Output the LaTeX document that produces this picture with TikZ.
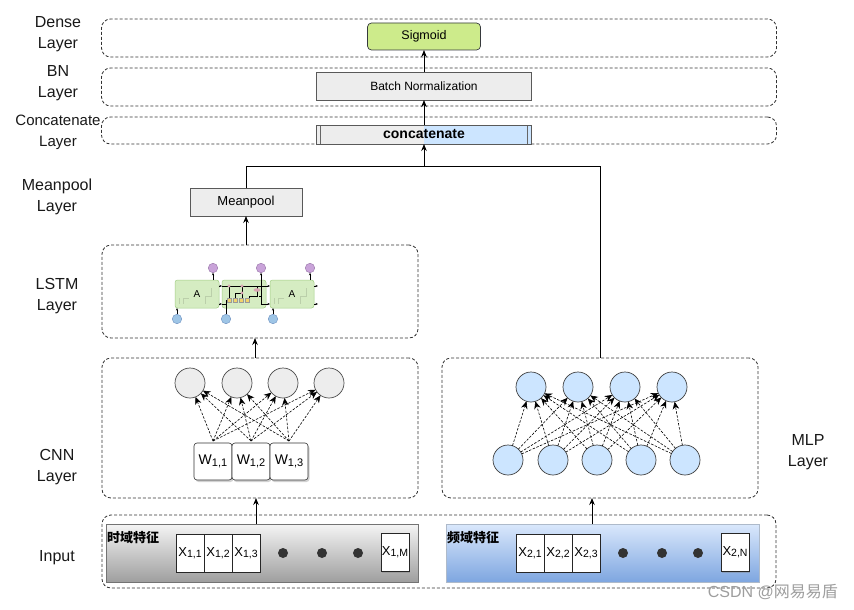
\documentclass[tikz,border=0pt]{standalone}
\usepackage{fontspec}
\setmainfont{Liberation Sans}
\newfontfamily\cjk{Noto Sans CJK SC}
\usetikzlibrary{arrows.meta,shadows,calc}
\definecolor{siggreen}{HTML}{CDEB8B}
\definecolor{sigdraw}{HTML}{36393D}
\definecolor{cblue}{HTML}{CCE5FF}
\definecolor{ftop}{HTML}{DAE8FC}
\definecolor{fbot}{HTML}{7EA6E0}
\definecolor{cellfill}{HTML}{D5ECC2}
\definecolor{celldraw}{HTML}{A3CF86}
\definecolor{purfill}{HTML}{C9A3D9}
\definecolor{purdraw}{HTML}{9673A6}
\definecolor{lbfill}{HTML}{9EC5E6}
\definecolor{lbdraw}{HTML}{6C8EBF}
\definecolor{pinkdot}{HTML}{D9A6B3}
\definecolor{yelrect}{HTML}{F2D46B}
\begin{document}
\begin{tikzpicture}[x=1pt,y=-1pt,
  container/.style={draw=black!80, line width=0.8pt, dash pattern=on 3pt off 2pt, rounded corners=9pt, inner sep=0pt, outer sep=0pt},
  lbl/.style={align=center, font=\fontsize{16}{21}\selectfont, text=black!90},
  grbox/.style={draw=black!65, fill=black!7, inner sep=0pt, outer sep=0pt, line width=0.7pt},
  arr/.style={-{Stealth[length=7pt,width=5.5pt]}, line width=0.8pt, black},
  darr/.style={dash pattern=on 2.5pt off 1.5pt, -{Stealth[length=7.5pt,width=6.5pt]}, line width=0.6pt, black},
  sarr/.style={-{Stealth[length=2.5pt,width=2pt]}, line width=0.4pt, black},
  gcirc/.style={circle, draw=black!70, fill=black!7, minimum size=30pt, inner sep=0pt, outer sep=0pt, line width=0.7pt},
  bcirc/.style={circle, draw=black!75, fill=cblue, minimum size=30pt, inner sep=0pt, outer sep=0pt, line width=0.7pt},
  wbox/.style={draw=black!80, fill=white, rounded corners=3pt, minimum width=38pt, minimum height=37pt, inner sep=0pt, outer sep=0pt, line width=0.6pt, drop shadow={shadow xshift=1.5pt, shadow yshift=-2pt, opacity=0.35}},
  xbox/.style={draw=black!85, fill=white, minimum width=28pt, minimum height=38pt, inner sep=0pt, outer sep=0pt, line width=0.7pt},
  dotn/.style={circle, fill=black!80, minimum size=10pt, inner sep=0pt},
  cell/.style={draw=celldraw, fill=cellfill, rounded corners=2.5pt, minimum width=44pt, minimum height=28pt, inner sep=0pt, outer sep=0pt, line width=0.5pt, font=\fontsize{10}{12}\selectfont},
  hcirc/.style={circle, draw=purdraw, fill=purfill, minimum size=9.5pt, inner sep=0pt, outer sep=0pt, line width=0.4pt},
  xcirc/.style={circle, draw=lbdraw, fill=lbfill, minimum size=9.5pt, inner sep=0pt, outer sep=0pt, line width=0.4pt},
  wtxt/.style={font=\fontsize{14}{16}\selectfont},
  xtxt/.style={font=\fontsize{13}{15}\selectfont}]
\useasboundingbox (0,0) rectangle (854,610);
\fill[white] (0,0) rectangle (854,610);

% ---------- containers ----------
\node[container, minimum width=675pt, minimum height=38pt] (densec) at (439,38) {};
\node[container, minimum width=675pt, minimum height=38pt] (bnc) at (439,87) {};
\node[container, minimum width=675pt, minimum height=27pt] (concc) at (439,130.5) {};
\node[container, minimum width=316pt, minimum height=93pt] (lstm) at (260,291.5) {};
\node[container, minimum width=316pt, minimum height=140pt] (cnn) at (260,428) {};
\node[container, minimum width=316pt, minimum height=140pt] (mlp) at (600,428) {};
\node[container, minimum width=674pt, minimum height=73pt] (inp) at (439,551.5) {};

% ---------- layer labels ----------
\node[lbl] (ldense) at (58,34) {Dense\\Layer};
\node[lbl] (lbn) at (58,83) {BN\\Layer};
\node[lbl, font=\fontsize{15}{21}\selectfont] (lconc) at (58,132) {Concatenate\\Layer};
\node[lbl] (lmean) at (57,197) {Meanpool\\Layer};
\node[lbl] (llstm) at (57,296) {LSTM\\Layer};
\node[lbl] (lcnn) at (57,467) {CNN\\Layer};
\node[lbl] (linp) at (57,557.5) {Input};
\node[lbl] (lmlp) at (808,452) {MLP\\Layer};

% ---------- top nodes ----------
\node[draw=sigdraw, fill=siggreen, rounded corners=4pt, minimum width=113pt, minimum height=27pt, inner sep=0pt, outer sep=0pt, line width=0.7pt, font=\fontsize{12.5}{14}\selectfont] (sig) at (424,36.5) {Sigmoid};
\node[grbox, minimum width=215pt, minimum height=28pt, font=\fontsize{12}{14}\selectfont] (bn) at (424,86) {Batch Normalization};
\node[grbox, minimum width=215pt, minimum height=19pt, font=\fontsize{14}{16}\selectfont\bfseries,
  path picture={
    \fill[cblue] (path picture bounding box.north) rectangle (path picture bounding box.south east);
    \draw[black!60, line width=0.6pt] ([xshift=4pt]path picture bounding box.north west) -- ([xshift=4pt]path picture bounding box.south west);
    \draw[black!60, line width=0.6pt] ([xshift=-4pt]path picture bounding box.north east) -- ([xshift=-4pt]path picture bounding box.south east);
  }] (conc) at (424,134.5) {concatenate};
\node[grbox, minimum width=112pt, minimum height=28pt, font=\fontsize{13}{15}\selectfont] (mean) at (246,202) {Meanpool};

% ---------- top connectors ----------
\coordinate (j) at (424,166);
\draw[line width=0.8pt] (mean.north) |- (j);
\draw[line width=0.8pt] (mlp.north) |- (j);
\draw[arr] (j) -- (conc.south);
\draw[arr] (conc.north) -- (bn.south);
\draw[arr] (bn.north) -- (sig.south);
\draw[arr] (mean.south |- lstm.north) -- (mean.south);
\coordinate (cl) at (255,358);
\draw[arr] (cl) -- (cl |- lstm.south);

% ---------- LSTM cells ----------
\node[cell] (c1) at (197,294) {A};
\node[cell] (c2) at (244,294) {};
\node[cell] (c3) at (292,294) {A};
\foreach \c in {c1,c3}{
  \draw[black, opacity=0.12, line width=0.5pt] ([shift={(-18,4)}]\c.center) -- ([shift={(-18,10)}]\c.center)
    ([shift={(-14,10)}]\c.center) -- ([shift={(-14,4)}]\c.center) -- ([shift={(-8,4)}]\c.center)
    ([shift={(8,10)}]\c.center) -- ([shift={(8,2)}]\c.center) -- ([shift={(14,2)}]\c.center) -- ([shift={(14,-6)}]\c.center);
}
\node[hcirc] (h1) at (213,268) {};
\node[hcirc] (h2) at (261,268) {};
\node[hcirc] (h3) at (310,268) {};
\node[xcirc] (x1) at (177,319) {};
\node[xcirc] (x2) at (226,319) {};
\node[xcirc] (x3) at (273,319) {};
\draw[sarr] (h1 |- c1.north) -- (h1);
\draw[sarr] (h3 |- c3.north) -- (h3);
\draw[sarr] (x1) -- (x1 |- c1.south);
\draw[sarr] (x3) -- (x3 |- c3.south);
\foreach \yy in {286,304}{
  \draw[sarr] (c1.east |- 0,\yy) -- (c2.west |- 0,\yy);
  \draw[sarr] (c2.east |- 0,\yy) -- (c3.west |- 0,\yy);
  \draw[sarr] (c3.east |- 0,\yy) -- (318,\yy);
}
% middle cell internals
\draw[line width=0.4pt] (222,286) -- (266,286);
\draw[line width=0.4pt] (222,304) -- (226,304) -- (226,300);
\draw[line width=0.4pt] (x2) -- (226,304);
\draw[line width=0.4pt] (229,299) -- (229,286);
\draw[line width=0.4pt] (235,299) -- (235,293) -- (242,293);
\draw[line width=0.4pt] (242,299) -- (242,286);
\draw[line width=0.4pt] (249,299) -- (249,296) -- (257,296) -- (257,291);
\draw[line width=0.4pt] (257,286) -- (257,289);
\draw[line width=0.4pt] (259,296) -- (261,296) -- (261,304) -- (266,304);
\draw[sarr] (261,296) -- (h2);
\foreach \xx in {227,233,239,245}{
  \fill[yelrect] (\xx,298.5) rectangle +(4.5,3.5);
  \draw[black!40, line width=0.2pt] (\xx,298.5) rectangle +(4.5,3.5);
}
\fill[pinkdot] (229,286) circle (1.6pt) (242,286) circle (1.6pt) (242,293) circle (1.6pt);
\fill[pinkdot] (257,290) ellipse (3.5pt and 1.8pt);

% ---------- CNN ----------
\node[gcirc] (g1) at (190,383) {};
\node[gcirc] (g2) at (237,383) {};
\node[gcirc] (g3) at (283,383) {};
\node[gcirc] (g4) at (329,383) {};
\node[wbox] (w1) at (213,461.5) {};
\node[wbox] (w2) at (251,461.5) {};
\node[wbox] (w3) at (289,461.5) {};
\node[wtxt] at (w1) {W\raisebox{-1.5pt}{\fontsize{11}{12}\selectfont 1,1}};
\node[wtxt] at (w2) {W\raisebox{-1.5pt}{\fontsize{11}{12}\selectfont 1,2}};
\node[wtxt] at (w3) {W\raisebox{-1.5pt}{\fontsize{11}{12}\selectfont 1,3}};
\foreach \w in {w1,w2,w3}{
  \foreach \g in {g1,g2,g3,g4}{
    \draw[darr] ([yshift=2pt]\w.north) -- (\g);
  }
}

% ---------- MLP ----------
\node[bcirc] (t1) at (531,387) {};
\node[bcirc] (t2) at (578,387) {};
\node[bcirc] (t3) at (625,387) {};
\node[bcirc] (t4) at (672,387) {};
\node[bcirc] (b1) at (508,460) {};
\node[bcirc] (b2) at (553,460) {};
\node[bcirc] (b3) at (597,460) {};
\node[bcirc] (b4) at (641,460) {};
\node[bcirc] (b5) at (685,460) {};
\foreach \b in {b1,b2,b3,b4,b5}{
  \foreach \t in {t1,t2,t3,t4}{
    \draw[darr] (\b) -- (\t);
  }
}

% ---------- Input ----------
\node[draw=black!55, top color=black!4, bottom color=black!38, minimum width=312pt, minimum height=58pt, inner sep=0pt, outer sep=0pt, line width=0.7pt] (tbox) at (262,553) {};
\node[draw=ftop!80!black, top color=ftop, bottom color=fbot, minimum width=313pt, minimum height=58pt, inner sep=0pt, outer sep=0pt, line width=0.7pt] (fbox) at (602.5,553) {};
\node[anchor=west, inner sep=0pt, font=\cjk\fontsize{13}{15}\selectfont\bfseries] (tlab) at (107,538) {时域特征};
\node[anchor=west, inner sep=0pt, font=\cjk\fontsize{13}{15}\selectfont\bfseries] (flab) at (447,538) {频域特征};

\node[xbox] (x11) at (190,553) {};
\node[xbox] (x12) at (218,553) {};
\node[xbox] (x13) at (246,553) {};
\node[xbox, drop shadow={shadow xshift=1pt, shadow yshift=-1.5pt, opacity=0.4}] (x1m) at (395,552) {};
\node[xtxt] at (x11) {X\raisebox{-1pt}{\fontsize{10.5}{12}\selectfont 1,1}};
\node[xtxt] at (x12) {X\raisebox{-1pt}{\fontsize{10.5}{12}\selectfont 1,2}};
\node[xtxt] at (x13) {X\raisebox{-1pt}{\fontsize{10.5}{12}\selectfont 1,3}};
\node[xtxt] at (x1m) {X\raisebox{-1pt}{\fontsize{10.5}{12}\selectfont 1,M}};
\node[dotn] (d11) at (283,553) {};
\node[dotn] (d12) at (322,553) {};
\node[dotn] (d13) at (358,553) {};

\node[xbox] (x21) at (530,553) {};
\node[xbox] (x22) at (558,553) {};
\node[xbox] (x23) at (586,553) {};
\node[xbox, drop shadow={shadow xshift=1pt, shadow yshift=-1.5pt, opacity=0.4}] (x2n) at (735,552) {};
\node[xtxt] at (x21) {X\raisebox{-1pt}{\fontsize{10.5}{12}\selectfont 2,1}};
\node[xtxt] at (x22) {X\raisebox{-1pt}{\fontsize{10.5}{12}\selectfont 2,2}};
\node[xtxt] at (x23) {X\raisebox{-1pt}{\fontsize{10.5}{12}\selectfont 2,3}};
\node[xtxt] at (x2n) {X\raisebox{-1pt}{\fontsize{10.5}{12}\selectfont 2,N}};
\node[dotn] (d21) at (623,553) {};
\node[dotn] (d22) at (662,553) {};
\node[dotn] (d23) at (698,553) {};

\coordinate (ia) at (256,524);
\coordinate (fa) at (592,524);
\draw[arr] (ia) -- (ia |- cnn.south);
\draw[arr] (fa) -- (fa |- mlp.south);

% ---------- watermark ----------
\node[anchor=east, inner sep=0pt, text=black!38, font=\fontsize{16}{18}\selectfont] (wm) at (838,592) {CSDN @{\cjk 网易易盾}};
\end{tikzpicture}
\end{document}
